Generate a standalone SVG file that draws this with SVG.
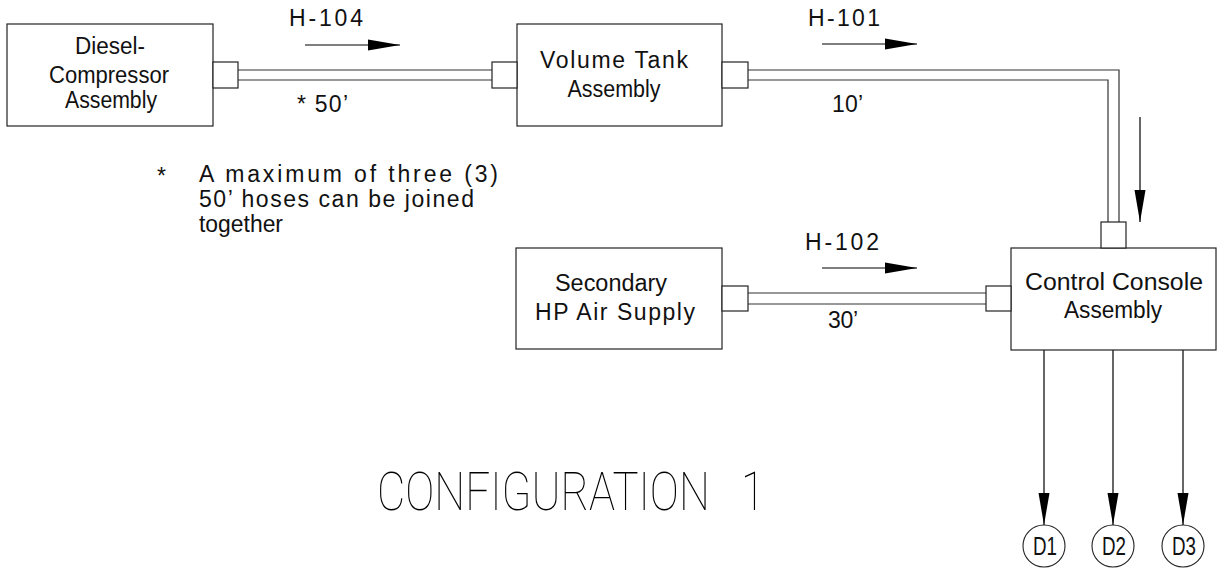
<svg xmlns="http://www.w3.org/2000/svg" width="1217" height="569" viewBox="0 0 1217 569">
<style>
.box{fill:#fff;stroke:#222;stroke-width:1.2}
.con{fill:#fff;stroke:#222;stroke-width:1.2}
.hose{fill:none;stroke:#333;stroke-width:1.2}
.flow{fill:none;stroke:#000;stroke-width:1.2}
.t{font-family:"Liberation Sans",Arial,sans-serif;font-size:23px;fill:#111}
.m{text-anchor:middle}
.d{font-family:"Liberation Sans",Arial,sans-serif;font-size:25px;fill:#111;text-anchor:middle}
.title{font-family:Roboto,"Liberation Sans",sans-serif;font-weight:100;font-size:53px;fill:#000;white-space:pre}
</style>
<defs>
<marker id="ah" markerUnits="userSpaceOnUse" markerWidth="32" markerHeight="12" refX="32" refY="6" orient="auto">
<path d="M0,0.5 L32,6 L0,11.5 Z" fill="#000"/>
</marker>
</defs>
<rect width="1217" height="569" fill="#fff"/>
<g id="connectors">
<path class="hose" d="M238,70 H492 M238,80 H492"/>
<path class="hose" d="M748,70 H1119 V222 M748,80 H1108 V222"/>
<path class="hose" d="M748,293 H986 M748,304 H986"/>
<line class="flow" x1="305" y1="45" x2="400" y2="45" marker-end="url(#ah)"/>
<line class="flow" x1="822" y1="44" x2="917" y2="44" marker-end="url(#ah)"/>
<line class="flow" x1="822" y1="268" x2="917" y2="268" marker-end="url(#ah)"/>
<line class="flow" x1="1140" y1="117" x2="1140" y2="222" marker-end="url(#ah)"/>
<line class="flow" x1="1044" y1="350" x2="1044" y2="525" marker-end="url(#ah)"/>
<line class="flow" x1="1113" y1="350" x2="1113" y2="525" marker-end="url(#ah)"/>
<line class="flow" x1="1183" y1="350" x2="1183" y2="525" marker-end="url(#ah)"/>
<text class="t m" x="326" y="26" textLength="74">H-104</text>
<text class="t" x="297" y="112" textLength="51">* 50’</text>
<text class="t m" x="844" y="26" textLength="72">H-101</text>
<text class="t" x="832" y="112" textLength="31">10’</text>
<text class="t m" x="842" y="250" textLength="74">H-102</text>
<text class="t" x="828" y="328" textLength="30">30’</text>
</g>
<g id="diesel">
<rect class="box" x="7" y="24" width="206" height="102"/>
<rect class="con" x="213" y="62" width="25" height="26"/>
<text class="t m" x="110" y="54" textLength="70" lengthAdjust="spacingAndGlyphs">Diesel-</text>
<text class="t m" x="109" y="83" textLength="120" lengthAdjust="spacingAndGlyphs">Compressor</text>
<text class="t m" x="111" y="108" textLength="92" lengthAdjust="spacingAndGlyphs">Assembly</text>
</g>
<g id="volume-tank">
<rect class="box" x="517" y="24" width="205" height="102"/>
<rect class="con" x="492" y="62" width="25" height="26"/>
<rect class="con" x="722" y="62" width="26" height="26"/>
<text class="t m" x="614" y="68" textLength="148">Volume Tank</text>
<text class="t m" x="614" y="97" textLength="93" lengthAdjust="spacingAndGlyphs">Assembly</text>
</g>
<g id="secondary">
<rect class="box" x="516" y="248" width="206" height="101"/>
<rect class="con" x="722" y="286" width="26" height="25"/>
<text class="t m" x="611" y="291" textLength="112" lengthAdjust="spacingAndGlyphs">Secondary</text>
<text class="t m" x="615" y="320" textLength="160">HP Air Supply</text>
</g>
<g id="control-console">
<rect class="box" x="1011" y="248" width="205" height="102"/>
<rect class="con" x="986" y="286" width="25" height="25"/>
<rect class="con" x="1101" y="222" width="25" height="26"/>
<text class="t m" x="1114" y="290" textLength="178" lengthAdjust="spacingAndGlyphs">Control Console</text>
<text class="t m" x="1113" y="318" textLength="98" lengthAdjust="spacingAndGlyphs">Assembly</text>
</g>
<g id="d1">
<circle cx="1044" cy="546" r="21" fill="#fff" stroke="#222" stroke-width="1.1"/>
<text class="d" x="1045" y="555" textLength="24" lengthAdjust="spacingAndGlyphs">D1</text>
</g>
<g id="d2">
<circle cx="1113" cy="546" r="21" fill="#fff" stroke="#222" stroke-width="1.1"/>
<text class="d" x="1114" y="555" textLength="24" lengthAdjust="spacingAndGlyphs">D2</text>
</g>
<g id="d3">
<circle cx="1183" cy="546" r="21" fill="#fff" stroke="#222" stroke-width="1.1"/>
<text class="d" x="1184" y="555" textLength="24" lengthAdjust="spacingAndGlyphs">D3</text>
</g>
<g id="note">
<text class="t" x="157" y="184">*</text>
<text class="t" x="199" y="182" textLength="299">A maximum of three (3)</text>
<text class="t" x="199" y="207" textLength="275">50’ hoses can be joined</text>
<text class="t" x="199" y="232" textLength="84" lengthAdjust="spacingAndGlyphs">together</text>
</g>
<g id="title">
<text class="title" xml:space="preserve" x="377" y="510" textLength="388" lengthAdjust="spacingAndGlyphs">CONFIGURATION   1</text>
</g>
</svg>
